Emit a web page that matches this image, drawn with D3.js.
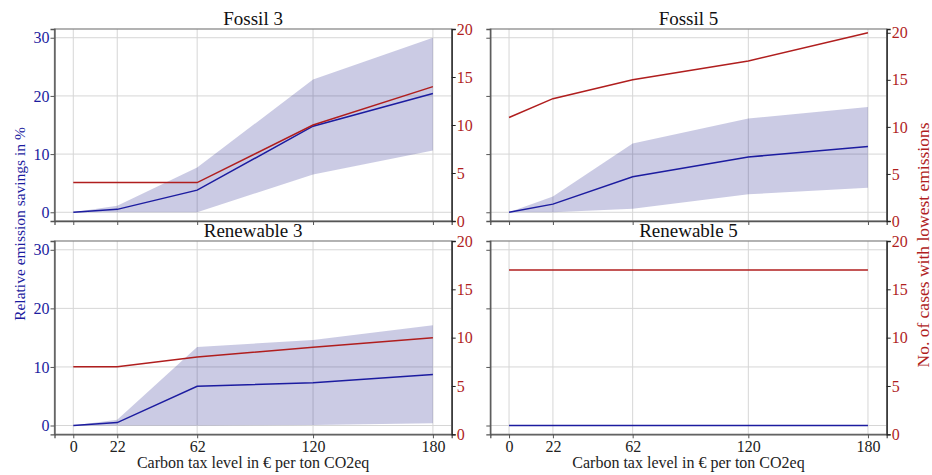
<!DOCTYPE html>
<html>
<head>
<meta charset="utf-8">
<script src="https://cdnjs.cloudflare.com/ajax/libs/d3/7.9.0/d3.min.js"></script>
<style>
  html, body { margin: 0; padding: 0; background: #fff; }
  svg { display: block; }
  svg text { font-family: "Liberation Serif", "Times New Roman", serif; }
</style>
</head>
<body>
<div id="chart"></div>
<script>
// --- dados ---
const taxLevels = [0, 22, 62, 120, 180];
const leftTicks = [0, 10, 20, 30];
const rightTicks = [0, 5, 10, 15, 20];
const panelTitles = ["Fossil 3", "Fossil 5", "Renewable 3", "Renewable 5"];

// economia relativa de emissões (%) — média, limite superior e inferior
const fossil3Mean  = [0, 0.5, 3.8, 14.8, 20.4];
const fossil3Upper = [0, 1.1, 7.7, 22.8, 30.0];
const fossil3Lower = [0, 0, 0, 6.5, 10.6];
const fossil3Cases = [4, 4, 4, 10, 14];

const fossil5Mean  = [0, 1.4, 6.1, 9.5, 11.3];
const fossil5Upper = [0, 2.7, 11.8, 16.1, 18.1];
const fossil5Lower = [0, 0, 0.6, 3.1, 4.2];
const fossil5Cases = [11, 13, 15, 17, 20];

const renew3Mean  = [0, 0.5, 6.7, 7.3, 8.7];
const renew3Upper = [0, 1.0, 13.4, 14.6, 17.1];
const renew3Lower = [0, 0, 0, 0.1, 0.4];
const renew3Cases = [7, 7, 8, 9, 10];

const renew5Mean  = [0, 0, 0, 0, 0];
const renew5Upper = [0, 0, 0, 0, 0];
const renew5Lower = [0, 0, 0, 0, 0];
const renew5Cases = [17, 17, 17, 17, 17];

const AZUL = "#1c1ca0";
const VERMELHO = "#b01e1e";
const FAIXA = "rgba(20, 20, 130, 0.22)";
const GRADE = "#d6d6d6";
const FONTE = '"Liberation Serif", "Times New Roman", serif';

const W = 932, H = 475;

const paineis = [
  { titulo: panelTitles[0], media: fossil3Mean, sup: fossil3Upper, inf: fossil3Lower, casos: fossil3Cases,
    x0: 54.5, x1: 451.7, y0: 29, y1: 221, linha: 0, col: 0, topoDireita: 20 },
  { titulo: panelTitles[1], media: fossil5Mean, sup: fossil5Upper, inf: fossil5Lower, casos: fossil5Cases,
    x0: 490.3, x1: 886.7, y0: 29, y1: 221, linha: 0, col: 1, topoDireita: 20.4 },
  { titulo: panelTitles[2], media: renew3Mean, sup: renew3Upper, inf: renew3Lower, casos: renew3Cases,
    x0: 54.5, x1: 451.7, y0: 241, y1: 434.3, linha: 1, col: 0, topoDireita: 20 },
  { titulo: panelTitles[3], media: renew5Mean, sup: renew5Upper, inf: renew5Lower, casos: renew5Cases,
    x0: 490.3, x1: 886.7, y0: 241, y1: 434.3, linha: 1, col: 1, topoDireita: 20 },
];

const svg = d3.select("#chart").append("svg")
  .attr("width", W).attr("height", H)
  .attr("viewBox", `0 0 ${W} ${H}`);

// aplica a fonte serifada nos rótulos dos eixos (o d3 põe sans-serif no <g>)
function estiloEixo(sel, cor, corTexto, tamanho) {
  sel.attr("font-family", FONTE).attr("font-size", tamanho);
  sel.select(".domain").attr("stroke", cor).attr("stroke-width", 1.3);
  sel.selectAll(".tick line").attr("stroke", cor);
  sel.selectAll(".tick text")
    .style("font-family", FONTE).style("font-size", tamanho + "px")
    .attr("fill", corTexto);
}

paineis.forEach(p => {
  const x = d3.scaleLinear().domain([-9.4, 189.4]).range([p.x0, p.x1]);
  const yL = d3.scaleLinear().domain([-1.5, 31.5]).range([p.y1, p.y0]);
  const yR = d3.scaleLinear().domain([0, p.topoDireita]).range([p.y1, p.y0]);

  const g = svg.append("g");

  // grade
  g.selectAll("line.gx").data(taxLevels).join("line")
    .attr("x1", d => x(d)).attr("x2", d => x(d))
    .attr("y1", p.y0).attr("y2", p.y1)
    .attr("stroke", GRADE).attr("stroke-width", 1);
  g.selectAll("line.gy").data(leftTicks).join("line")
    .attr("x1", p.x0).attr("x2", p.x1)
    .attr("y1", d => yL(d)).attr("y2", d => yL(d))
    .attr("stroke", GRADE).attr("stroke-width", 1);

  // faixa de incerteza
  const dados = taxLevels.map((t, i) => ({ t, m: p.media[i], s: p.sup[i], l: p.inf[i], c: p.casos[i] }));
  g.append("path").datum(dados)
    .attr("d", d3.area().x(d => x(d.t)).y0(d => yL(d.l)).y1(d => yL(d.s)))
    .attr("fill", FAIXA).attr("stroke", "none");

  g.append("path").datum(dados)
    .attr("d", d3.line().x(d => x(d.t)).y(d => yL(d.m)))
    .attr("fill", "none").attr("stroke", AZUL).attr("stroke-width", 1.5);

  g.append("path").datum(dados)
    .attr("d", d3.line().x(d => x(d.t)).y(d => yR(d.c)))
    .attr("fill", "none").attr("stroke", VERMELHO).attr("stroke-width", 1.5);

  // moldura
  g.append("rect")
    .attr("x", p.x0).attr("y", p.y0)
    .attr("width", p.x1 - p.x0).attr("height", p.y1 - p.y0)
    .attr("fill", "none").attr("stroke", "#8a8a8a").attr("stroke-width", 1.3);

  // eixos
  const eixoX = d3.axisBottom(x).tickValues(taxLevels).tickSize(4).tickPadding(2)
    .tickFormat(p.linha === 1 ? d3.format("d") : () => "");
  g.append("g").attr("transform", `translate(0,${p.y1})`).call(eixoX)
    .call(estiloEixo, "#555", "#222", 16);

  const eixoL = d3.axisLeft(yL).tickValues(leftTicks).tickSize(4).tickPadding(1)
    .tickFormat(p.col === 0 ? d3.format("d") : () => "");
  g.append("g").attr("transform", `translate(${p.x0},0)`).call(eixoL)
    .call(estiloEixo, "#555", AZUL, 16);

  const eixoR = d3.axisRight(yR).tickValues(rightTicks).tickSize(4).tickPadding(1);
  g.append("g").attr("transform", `translate(${p.x1},0)`).call(eixoR)
    .call(estiloEixo, "#222", VERMELHO, 16);

  // título do painel
  svg.append("text")
    .attr("x", (p.x0 + p.x1) / 2).attr("y", p.y0 - 4)
    .attr("text-anchor", "middle")
    .attr("font-family", FONTE).attr("font-size", 19).attr("fill", "#111")
    .text(p.titulo);

  if (p.linha === 1) {
    svg.append("text")
      .attr("x", (p.x0 + p.x1) / 2).attr("y", 468)
      .attr("text-anchor", "middle")
      .attr("font-family", FONTE).attr("font-size", 16).attr("fill", "#222")
      .text("Carbon tax level in € per ton CO2eq");
  }
});

// rótulos dos eixos y
svg.append("text")
  .attr("transform", "translate(25,224) rotate(-90)")
  .attr("text-anchor", "middle")
  .attr("font-family", FONTE).attr("font-size", 15.5).attr("fill", AZUL)
  .text("Relative emission savings in %");

svg.append("text")
  .attr("transform", "translate(929,245) rotate(-90)")
  .attr("text-anchor", "middle")
  .attr("font-family", FONTE).attr("font-size", 17.5).attr("fill", VERMELHO)
  .text("No. of cases with lowest emissions");
</script>
</body>
</html>
